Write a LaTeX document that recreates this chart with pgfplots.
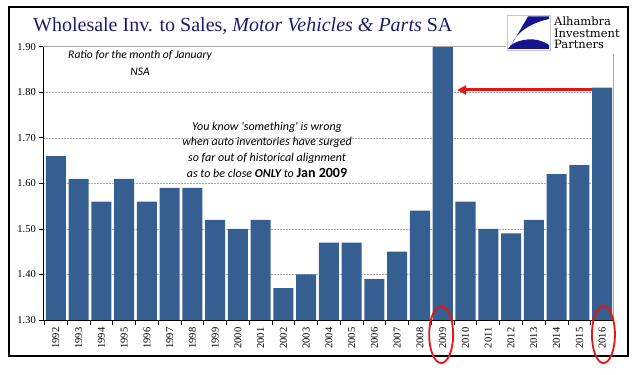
\documentclass[border=0pt]{standalone}
\usepackage{pgfplots}
\pgfplotsset{compat=1.18}
\usetikzlibrary{arrows.meta}
\usepackage{fontspec}
\setmainfont{Liberation Serif}
\newfontfamily\carlito{Carlito}
\newfontfamily\dvs{DejaVu Serif}
\definecolor{barblue}{RGB}{54,95,145}
\definecolor{titlenavy}{RGB}{28,28,110}
\definecolor{logoblue}{RGB}{20,20,140}
\definecolor{gridgray}{RGB}{170,170,170}
\definecolor{arrowred}{RGB}{228,22,22}
\begin{document}
\begin{tikzpicture}[x=1pt,y=1pt]
\path[use as bounding box] (0,0) rectangle (641,375);
\draw[black, line width=1.3pt] (9,19) rectangle (628,368);
\begin{axis}[
  at={(43.3pt,55pt)}, anchor=south west,
  scale only axis, width=569.7pt, height=273.3pt,
  xmin=-0.55, xmax=24.48, ymin=1.30, ymax=1.90,
  axis line style={draw=none},
  ybar, bar width=0.88,
  ytick={1.3,1.4,1.5,1.6,1.7,1.8,1.9},
  yticklabel style={/pgf/number format/.cd, fixed, fixed zerofill, precision=2},
  /pgf/number format/assume math mode=true,
  tick label style={font=\fontsize{10.5}{12}\selectfont},
  ymajorgrids, grid style={gridgray, dash pattern=on 2pt off 1pt, line width=0.6pt},
  ytick pos=left, xtick pos=left,
  tick align=outside,
  major tick length=4pt,
  minor tick length=5pt,
  tick style={black, line width=0.8pt},
  xtick={0,...,24},
  xticklabels={1992,1993,1994,1995,1996,1997,1998,1999,2000,2001,2002,2003,2004,2005,2006,2007,2008,2009,2010,2011,2012,2013,2014,2015,2016},
  major x tick style={draw=none},
  minor xtick={-0.5,0.5,...,24.5},
  xticklabel style={rotate=90, anchor=east},
  clip mode=individual,
]
\addplot[fill=barblue, draw=none] coordinates {
(0,1.66) (1,1.61) (2,1.56) (3,1.61) (4,1.56) (5,1.59) (6,1.59) (7,1.52) (8,1.50) (9,1.52)
(10,1.37) (11,1.40) (12,1.47) (13,1.47) (14,1.39) (15,1.45) (16,1.54) (17,1.95) (18,1.56) (19,1.50)
(20,1.49) (21,1.52) (22,1.62) (23,1.64) (24,1.81)};
\draw[gridgray, line width=0.8pt] (rel axis cs:0,1) -- (rel axis cs:1,1) -- (rel axis cs:1,0);
\draw[black, line width=0.8pt] (rel axis cs:0,1) -- (rel axis cs:0,0) -- (rel axis cs:1,0);
\node[font=\carlito\itshape\fontsize{11.6}{13}\selectfont] at (axis cs:3.7,1.88) {Ratio for the month of January};
\node[font=\carlito\itshape\fontsize{11.6}{13}\selectfont] at (axis cs:3.7,1.844) {NSA};
\node[align=center, font=\carlito\itshape\fontsize{12}{15.7}\selectfont] at (axis cs:9.28,1.674)
 {You know 'something' is wrong\\ when auto inventories have surged\\ so far out of historical alignment\\ as to be close \textbf{ONLY} to {\upshape\bfseries\fontsize{14}{15.7}\selectfont Jan 2009}};
\draw[arrowred, line width=3pt, -{Triangle[length=9pt,width=9pt]}] (axis cs:23.56,1.805) -- (axis cs:17.63,1.805);
\draw[arrowred, line width=1.8pt] (axis cs:16.93,1.268) ellipse [x radius=12pt, y radius=28.5pt];
\draw[arrowred, line width=1.8pt] (axis cs:24.06,1.268) ellipse [x radius=11.5pt, y radius=28.5pt];
\end{axis}
\node[anchor=base west, inner sep=0, text=titlenavy, font=\fontsize{20}{24}\selectfont] at (33,343)
 {Wholesale Inv. to Sales, \textit{Motor Vehicles \& Parts} SA};
\fill[white] (505.5,321) rectangle (626,366);
\draw[gray!45, line width=0.6pt] (507,325) rectangle (550,360);
\fill[logoblue] (528,358.5) -- (549,358.5) -- (549,356) .. controls (530,352) and (516,342) .. (512,331) -- cycle;
\fill[logoblue] (508,326) -- (549,326) -- (549,330) .. controls (536,339) and (520,336) .. (511,330) -- cycle;
\node[anchor=base west, inner sep=0, font=\dvs\fontsize{11.5}{11.5}\selectfont] at (554,349) {Alhambra};
\node[anchor=base west, inner sep=0, font=\dvs\fontsize{11.5}{11.5}\selectfont] at (554,337) {Investment};
\node[anchor=base west, inner sep=0, font=\dvs\fontsize{11.5}{11.5}\selectfont] at (554,326) {Partners};
\end{tikzpicture}
\end{document}
